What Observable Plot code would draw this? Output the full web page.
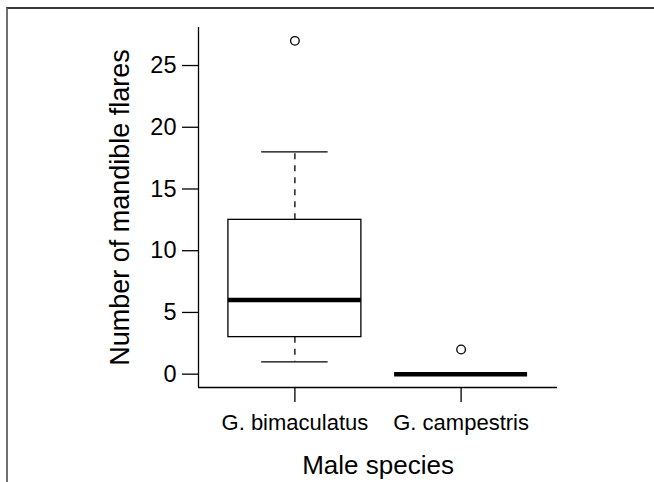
<!DOCTYPE html>
<html><head><meta charset="utf-8">
<script src="https://cdn.jsdelivr.net/npm/d3@7"></script>
<script src="https://cdn.jsdelivr.net/npm/@observablehq/plot@0.6"></script>
<style>
body{margin:0;background:#fff;}
#frame{position:absolute;left:6px;top:7px;width:700px;height:520px;border-top:2px solid #3a3a3a;border-left:2px solid #707070;}
#chart{position:absolute;left:0;top:0;}
</style></head><body>
<div id="frame"></div>
<div id="chart"></div>
<script>
// Data
const species = ["G. bimaculatus", "G. campestris"];
const lowerWhisker = [1, 0];
const q1 = [3, 0];
const median = [6, 0];
const q3 = [12.5, 0];
const upperWhisker = [18, 0];
const outlierSpecies = ["G. bimaculatus", "G. campestris"];
const outlierValues = [27, 2];
const yTicks = [0, 5, 10, 15, 20, 25];
const xTitle = "Male species";
const yTitle = "Number of mandible flares";

const stats = species.map((s, i) => ({
  species: s, pos: i + 1,
  lo: lowerWhisker[i], q1: q1[i], med: median[i], q3: q3[i], hi: upperWhisker[i]
}));
const outliers = outlierSpecies.map((s, i) => ({pos: species.indexOf(s) + 1, value: outlierValues[i]}));

// R-style 4% range extension
const yMin = 0, yMax = 27;
const yPad = (yMax - yMin) * 0.04;
const xDomain = [0.5 - 0.08, species.length + 0.5 + 0.08];
const yDomain = [yMin - yPad, yMax + yPad];

const font = "'Liberation Sans', Arial, Helvetica, sans-serif";
const dash = "6,6";
const lw = 1.3;

const plot = Plot.plot({
  width: 654, height: 482,
  marginLeft: 198, marginRight: 97, marginTop: 27, marginBottom: 95,
  style: {fontFamily: font, fontSize: "22px", color: "#000", background: "transparent"},
  x: {domain: xDomain},
  y: {domain: yDomain},
  marks: [
    Plot.rect(stats, {x1: d => d.pos - 0.4, x2: d => d.pos + 0.4, y1: "q1", y2: "q3", fill: "white", stroke: "black", strokeWidth: lw}),
    Plot.ruleX(stats, {x: "pos", y1: "q3", y2: "hi", stroke: "black", strokeWidth: lw, strokeDasharray: dash}),
    Plot.ruleX(stats, {x: "pos", y1: "q1", y2: "lo", stroke: "black", strokeWidth: lw, strokeDasharray: dash}),
    Plot.ruleY(stats, {y: "hi", x1: d => d.pos - 0.2, x2: d => d.pos + 0.2, stroke: "black", strokeWidth: lw}),
    Plot.ruleY(stats, {y: "lo", x1: d => d.pos - 0.2, x2: d => d.pos + 0.2, stroke: "black", strokeWidth: lw}),
    Plot.ruleY(stats, {y: "med", x1: d => d.pos - 0.4, x2: d => d.pos + 0.4, stroke: "black", strokeWidth: 4.5, strokeLinecap: "butt"}),
    Plot.dot(outliers, {x: "pos", y: "value", r: 4.3, stroke: "black", fill: "white", strokeWidth: lw}),
    // L-shaped box (bty = "l")
    Plot.ruleX([xDomain[0]], {y1: yDomain[0], y2: yDomain[1], stroke: "black", strokeWidth: lw}),
    Plot.ruleY([yDomain[0]], {x1: xDomain[0], x2: xDomain[1], stroke: "black", strokeWidth: lw}),
    Plot.axisY({ticks: yTicks, tickSize: 16, tickPadding: 6, label: null, strokeWidth: lw, fontSize: 23.5, tickFormat: d => String(d)}),
    Plot.axisX({ticks: species.map((s, i) => i + 1), tickFormat: d => species[d - 1], tickSize: 15, tickPadding: 12, label: null, strokeWidth: lw}),
    Plot.text([xTitle], {frameAnchor: "bottom", dy: 78, fontSize: 26, lineAnchor: "middle", fill: "black"}),
    Plot.text([yTitle], {frameAnchor: "left", dx: -78, fontSize: 27, rotate: -90, lineAnchor: "middle", textAnchor: "middle", fill: "black"})
  ]
});
document.getElementById("chart").appendChild(plot);
</script>
</body></html>
